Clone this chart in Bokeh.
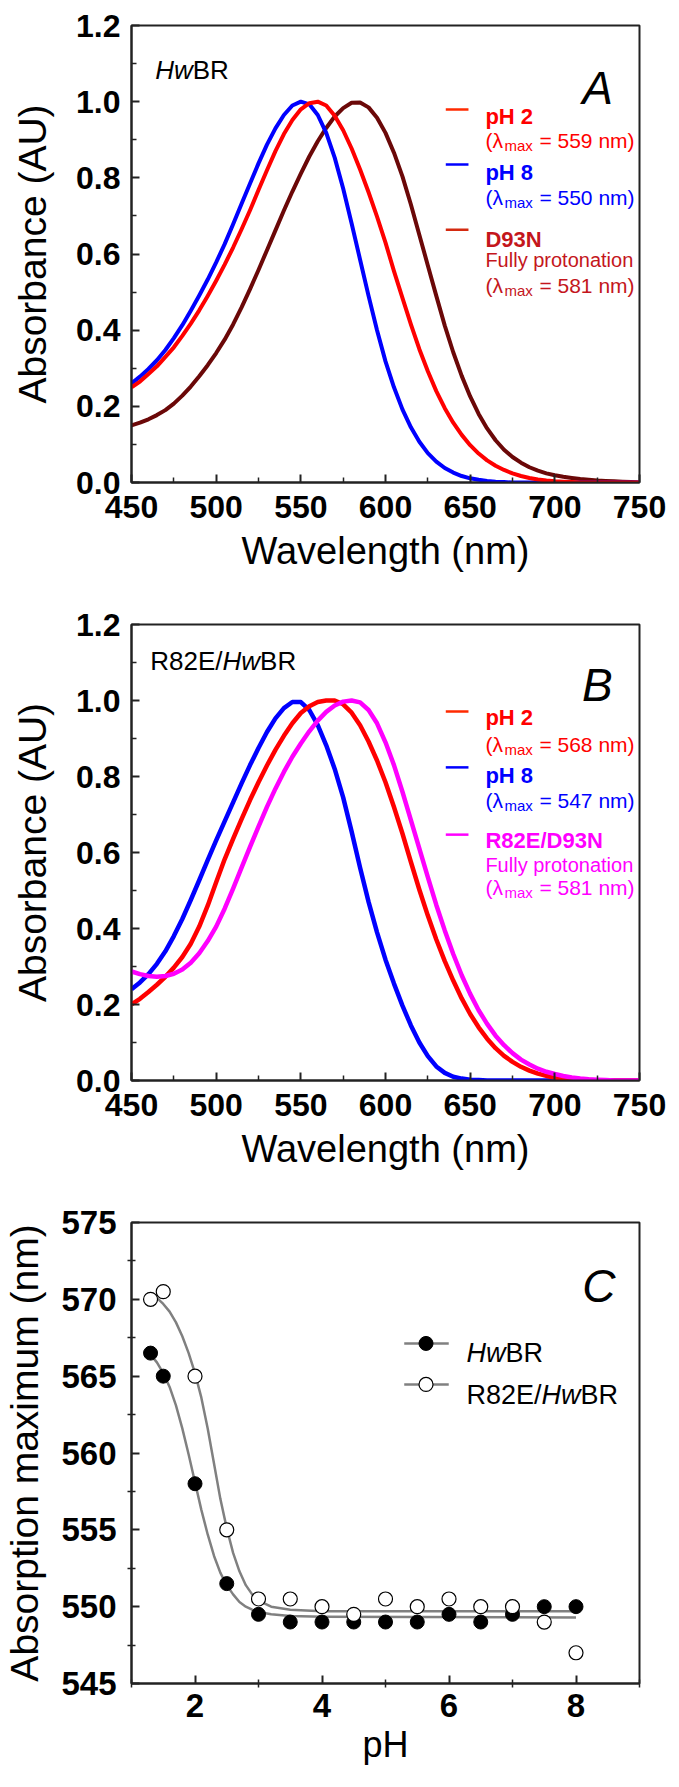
from bokeh.plotting import figure
from bokeh.models import FixedTicker, PrintfTickFormatter, Label, Range1d
from bokeh.layouts import column
from bokeh.embed import file_html
from bokeh.resources import INLINE

FONT = "Liberation Sans"

# ---------------- data ----------------
wavelength = list(range(450, 751, 5))

# Panel A (HwBR)
A_pH2 = [0.250, 0.265, 0.285, 0.305, 0.330, 0.355, 0.385, 0.417, 0.452, 0.490, 0.530, 0.572, 0.617,
         0.665, 0.715, 0.768, 0.820, 0.870, 0.915, 0.952, 0.980, 0.996, 1.000, 0.990, 0.963, 0.925,
         0.877, 0.822, 0.762, 0.698, 0.630, 0.555, 0.485, 0.415, 0.350, 0.292, 0.240, 0.195, 0.157,
         0.125, 0.098, 0.076, 0.058, 0.044, 0.033, 0.024, 0.017, 0.012, 0.008, 0.005, 0.003, 0.002,
         0.001, 0.0, 0.0, 0.0, 0.0, 0.0, 0.0, 0.0, 0.0]
A_pH8 = [0.260, 0.278, 0.298, 0.321, 0.348, 0.379, 0.413, 0.451, 0.491, 0.533, 0.578, 0.626, 0.678,
         0.732, 0.785, 0.838, 0.887, 0.930, 0.965, 0.990, 1.000, 0.993, 0.965, 0.918, 0.853, 0.772,
         0.680, 0.585, 0.490, 0.400, 0.318, 0.250, 0.192, 0.145, 0.107, 0.077, 0.055, 0.038, 0.026,
         0.017, 0.011, 0.007, 0.004, 0.002, 0.001, 0.0, 0.0, 0.0, 0.0, 0.0, 0.0, 0.0, 0.0, 0.0, 0.0,
         0.0, 0.0, 0.0, 0.0, 0.0, 0.0]
A_D93N = [0.150, 0.157, 0.166, 0.177, 0.190, 0.207, 0.228, 0.252, 0.279, 0.308, 0.340, 0.375, 0.415,
          0.460, 0.508, 0.558, 0.610, 0.662, 0.714, 0.764, 0.811, 0.856, 0.896, 0.931, 0.961, 0.983,
          0.997, 0.998, 0.985, 0.958, 0.918, 0.866, 0.804, 0.730, 0.650, 0.570, 0.490, 0.412, 0.342,
          0.280, 0.226, 0.180, 0.142, 0.111, 0.086, 0.067, 0.052, 0.040, 0.031, 0.024, 0.019, 0.015,
          0.012, 0.009, 0.007, 0.005, 0.004, 0.003, 0.002, 0.001, 0.0]

# Panel B (R82E/HwBR)
B_pH2 = [0.200, 0.215, 0.233, 0.252, 0.273, 0.297, 0.325, 0.360, 0.405, 0.460, 0.522, 0.582, 0.636,
         0.688, 0.738, 0.785, 0.829, 0.870, 0.907, 0.940, 0.967, 0.985, 0.996, 1.000, 1.000, 0.990,
         0.968, 0.935, 0.892, 0.842, 0.785, 0.720, 0.650, 0.575, 0.502, 0.434, 0.371, 0.314, 0.263,
         0.216, 0.175, 0.140, 0.110, 0.085, 0.065, 0.049, 0.036, 0.026, 0.018, 0.012, 0.008, 0.005,
         0.003, 0.002, 0.001, 0.0, 0.0, 0.0, 0.0, 0.0, 0.0]
B_pH8 = [0.240, 0.258, 0.280, 0.307, 0.340, 0.380, 0.425, 0.475, 0.527, 0.580, 0.632, 0.682, 0.732,
         0.782, 0.830, 0.875, 0.917, 0.953, 0.980, 0.996, 0.996, 0.975, 0.935, 0.882, 0.820, 0.745,
         0.655, 0.560, 0.470, 0.390, 0.318, 0.255, 0.197, 0.145, 0.100, 0.064, 0.037, 0.020, 0.010,
         0.005, 0.002, 0.001, 0.0, 0.0, 0.0, 0.0, 0.0, 0.0, 0.0, 0.0, 0.0, 0.0, 0.0, 0.0, 0.0, 0.0,
         0.0, 0.0, 0.0, 0.0, 0.0]
B_D93N = [0.287, 0.280, 0.275, 0.273, 0.275, 0.281, 0.292, 0.310, 0.335, 0.367, 0.405, 0.452, 0.505,
          0.560, 0.615, 0.668, 0.720, 0.768, 0.812, 0.852, 0.887, 0.919, 0.947, 0.970, 0.987, 0.997,
          1.000, 0.995, 0.975, 0.940, 0.890, 0.830, 0.760, 0.685, 0.610, 0.535, 0.462, 0.395, 0.333,
          0.277, 0.228, 0.185, 0.149, 0.118, 0.093, 0.072, 0.055, 0.042, 0.031, 0.023, 0.017, 0.012,
          0.008, 0.005, 0.003, 0.002, 0.001, 0.0, 0.0, 0.0, 0.0]

# Panel C (absorption maximum vs pH)
pH_points = [1.3, 1.5, 2.0, 2.5, 3.0, 3.5, 4.0, 4.5, 5.0, 5.5, 6.0, 6.5, 7.0, 7.5, 8.0]
HwBR_max = [566.5, 565.0, 558.0, 551.5, 549.5, 549.0, 549.0, 549.0, 549.0, 549.0, 549.5, 549.0, 549.5, 550.0, 550.0]
R82E_max = [570.0, 570.5, 565.0, 555.0, 550.5, 550.5, 550.0, 549.5, 550.5, 550.0, 550.5, 550.0, 550.0, 549.0, 547.0]

pH_fit = [1.3, 1.4, 1.5, 1.6, 1.7, 1.8, 1.9, 2.0, 2.1, 2.2, 2.3, 2.4, 2.5, 2.6, 2.7, 2.8, 2.9, 3.0, 3.2, 3.5, 4.0, 8.0]
HwBR_fit = [566.4, 565.9, 565.2, 564.3, 563.1, 561.6, 559.9, 558.1, 556.3, 554.7, 553.3, 552.2, 551.4, 550.8,
            550.3, 550.0, 549.8, 549.65, 549.5, 549.4, 549.35, 549.3]
R82E_fit = [570.3, 570.1, 569.7, 569.2, 568.5, 567.6, 566.5, 565.2, 563.6, 561.6, 559.3, 557.0, 555.1, 553.5,
            552.3, 551.4, 550.8, 550.4, 550.0, 549.8, 549.7, 549.7]

wl_ticks = [450, 500, 550, 600, 650, 700, 750]
wl_minor = [475, 525, 575, 625, 675, 725]
abs_ticks = [0.0, 0.2, 0.4, 0.6, 0.8, 1.0, 1.2]
abs_minor = [0.1, 0.3, 0.5, 0.7, 0.9, 1.1]
pH_ticks = [2, 4, 6, 8]
pH_minor = [1, 3, 5, 7, 9]
lam_ticks = [545, 550, 555, 560, 565, 570, 575]
lam_minor = [547.5, 552.5, 557.5, 562.5, 567.5, 572.5]

RED = "#ff0000"
BLUE = "#0000ff"
MAROON = "#6b0808"
DRED = "#c4161c"
MAG = "#ff00ff"
FRAME = "#222222"


def make_fig(xr, yr, height, top, bottom):
    p = figure(width=668, height=height, x_range=Range1d(*xr), y_range=Range1d(*yr),
               min_border_left=125, min_border_right=29, min_border_top=top, min_border_bottom=bottom,
               toolbar_location=None, output_backend="svg")
    p.grid.visible = False
    p.outline_line_color = FRAME
    p.outline_line_width = 2
    p.background_fill_color = "white"
    p.border_fill_color = "white"
    for ax in (p.xaxis[0], p.yaxis[0]):
        ax.axis_line_color = FRAME
        ax.axis_line_width = 2
        ax.major_tick_line_color = FRAME
        ax.major_tick_line_width = 2
        ax.major_tick_in = 8
        ax.major_tick_out = 0
        ax.minor_tick_line_color = FRAME
        ax.minor_tick_line_width = 1.5
        ax.minor_tick_in = 5
        ax.minor_tick_out = 0
        ax.major_label_text_font = FONT
        ax.major_label_text_font_style = "bold"
        ax.major_label_text_color = "black"
        ax.axis_label_text_font = FONT
        ax.axis_label_text_font_style = "normal"
        ax.axis_label_text_color = "black"
    return p


def lab(p, x, y, text, size, color="black", style="normal", dx=0):
    p.add_layout(Label(x=x, y=y, text=text, text_font=FONT, text_font_size=f"{size}px",
                       text_font_style=style, text_color=color, text_baseline="alphabetic",
                       text_align="left", x_offset=dx))


def spectrum_panel(height, top, bottom, curves, legend, title_parts, title_xy, letter, letter_xy):
    p = make_fig((450, 750), (0, 1.2), height, top, bottom)
    p.xaxis[0].ticker = FixedTicker(ticks=wl_ticks, minor_ticks=wl_minor)
    p.yaxis[0].ticker = FixedTicker(ticks=abs_ticks, minor_ticks=abs_minor)
    p.yaxis[0].formatter = PrintfTickFormatter(format="%.1f")
    p.xaxis[0].axis_label = "Wavelength (nm)"
    p.yaxis[0].axis_label = "Absorbance (AU)"
    for ax in (p.xaxis[0], p.yaxis[0]):
        ax.major_label_text_font_size = "32px"
    p.xaxis[0].axis_label_text_font_size = "38px"
    p.yaxis[0].axis_label_text_font_size = "39px"
    p.xaxis[0].major_label_standoff = 13
    p.xaxis[0].axis_label_standoff = 9
    p.yaxis[0].major_label_standoff = 11
    p.yaxis[0].axis_label_standoff = 19
    for ys, color, lw in curves:
        p.line(wavelength, ys, line_color=color, line_width=lw, line_join="round")
    # legend
    for (ly, head, extra, lam, lcolor, tcolor) in legend:
        p.segment(x0=[635.6], y0=[ly[0]], x1=[649.0], y1=[ly[0]], line_color=lcolor, line_width=2.5)
        lab(p, 659.0, ly[1], head, 22, tcolor, "bold")
        if extra:
            lab(p, 659.0, ly[2], extra, 20, tcolor)
        lab(p, 659.0, ly[3], "(\u03bb", 21, tcolor)
        lab(p, 659.0, ly[3] - 0.013, "max", 15, tcolor, dx=19)
        lab(p, 659.0, ly[3], "= %s nm)" % lam, 21, tcolor, dx=54)
    # sample name with italic part
    dx = 0
    for txt, style, w in title_parts:
        lab(p, title_xy[0], title_xy[1], txt, 26, "black", style, dx=dx)
        dx += w
    lab(p, letter_xy[0], letter_xy[1], letter, 46, "black", "italic")
    return p


pA = spectrum_panel(
    600, 25, 118,
    [(A_D93N, MAROON, 4), (A_pH8, BLUE, 4), (A_pH2, RED, 4)],
    [((0.9795, 0.961, None, 0.898), "pH 2", None, "559", "#ff2a00", RED),
     ((0.835, 0.814, None, 0.748), "pH 8", None, "550", BLUE, BLUE),
     ((0.664, 0.638, 0.583, 0.517), "D93N", "Fully protonation", "581", "#d42a10", DRED)],
    [("Hw", "italic", 37.5), ("BR", "normal", 0)], (464.0, 1.082),
    "A", (716.2, 1.037))

pB = spectrum_panel(
    600, 24, 120,
    [(B_pH8, BLUE, 4.5), (B_pH2, RED, 4.5), (B_D93N, MAG, 4.5)],
    [((0.971, 0.955, None, 0.884), "pH 2", None, "568", "#ff2a00", RED),
     ((0.824, 0.803, None, 0.737), "pH 8", None, "547", BLUE, BLUE),
     ((0.647, 0.632, 0.568, 0.508), "R82E/D93N", "Fully protonation", "581", MAG, MAG)],
    [("R82E/", "normal", 72.3), ("Hw", "italic", 37.5), ("BR", "normal", 0)], (461.1, 1.103),
    "B", (716.0, 1.042))

# ---------------- panel C ----------------
pC = make_fig((1, 9), (545, 575), 571, 22, 88)
pC.xaxis[0].ticker = FixedTicker(ticks=pH_ticks, minor_ticks=pH_minor)
pC.yaxis[0].ticker = FixedTicker(ticks=lam_ticks, minor_ticks=lam_minor)
pC.xaxis[0].axis_label = "pH"
pC.yaxis[0].axis_label = "Absorption maximum (nm)"
for ax in (pC.xaxis[0], pC.yaxis[0]):
    ax.major_label_text_font_size = "33px"
    ax.minor_tick_in = 4
    ax.minor_tick_out = 4
pC.xaxis[0].axis_label_text_font_size = "36px"
pC.yaxis[0].axis_label_text_font_size = "39px"
pC.xaxis[0].major_label_standoff = 6
pC.xaxis[0].axis_label_standoff = 4
pC.yaxis[0].major_label_standoff = 11
pC.yaxis[0].axis_label_standoff = 12

GRAY = "#808080"
pC.line(pH_fit, HwBR_fit, line_color=GRAY, line_width=2.5, line_join="round")
pC.line(pH_fit, R82E_fit, line_color=GRAY, line_width=2.5, line_join="round")
pC.scatter(pH_points, HwBR_max, size=14, marker="circle", fill_color="black", line_color="black")
pC.scatter(pH_points, R82E_max, size=14, marker="circle", fill_color="white", line_color="black",
           line_width=1.2)

# legend of panel C
pC.segment(x0=[5.295, 5.295], y0=[567.13, 564.46], x1=[5.996, 5.996], y1=[567.13, 564.46],
           line_color=GRAY, line_width=2.5)
pC.scatter([5.638], [567.13], size=14, marker="circle", fill_color="black", line_color="black")
pC.scatter([5.638], [564.46], size=14, marker="circle", fill_color="white", line_color="black",
           line_width=1.2)
lab(pC, 6.276, 566.5, "Hw", 27, "black", "italic")
lab(pC, 6.276, 566.5, "BR", 27, "black", "normal", dx=39)
lab(pC, 6.276, 563.8, "R82E/", 27, "black", "normal")
lab(pC, 6.276, 563.8, "Hw", 27, "black", "italic", dx=75)
lab(pC, 6.276, 563.8, "BR", 27, "black", "normal", dx=114)
lab(pC, 8.10, 570.9, "C", 46, "black", "italic")

layout = column(pA, pB, pC)
open("out.html", "w").write(file_html(layout, INLINE))
